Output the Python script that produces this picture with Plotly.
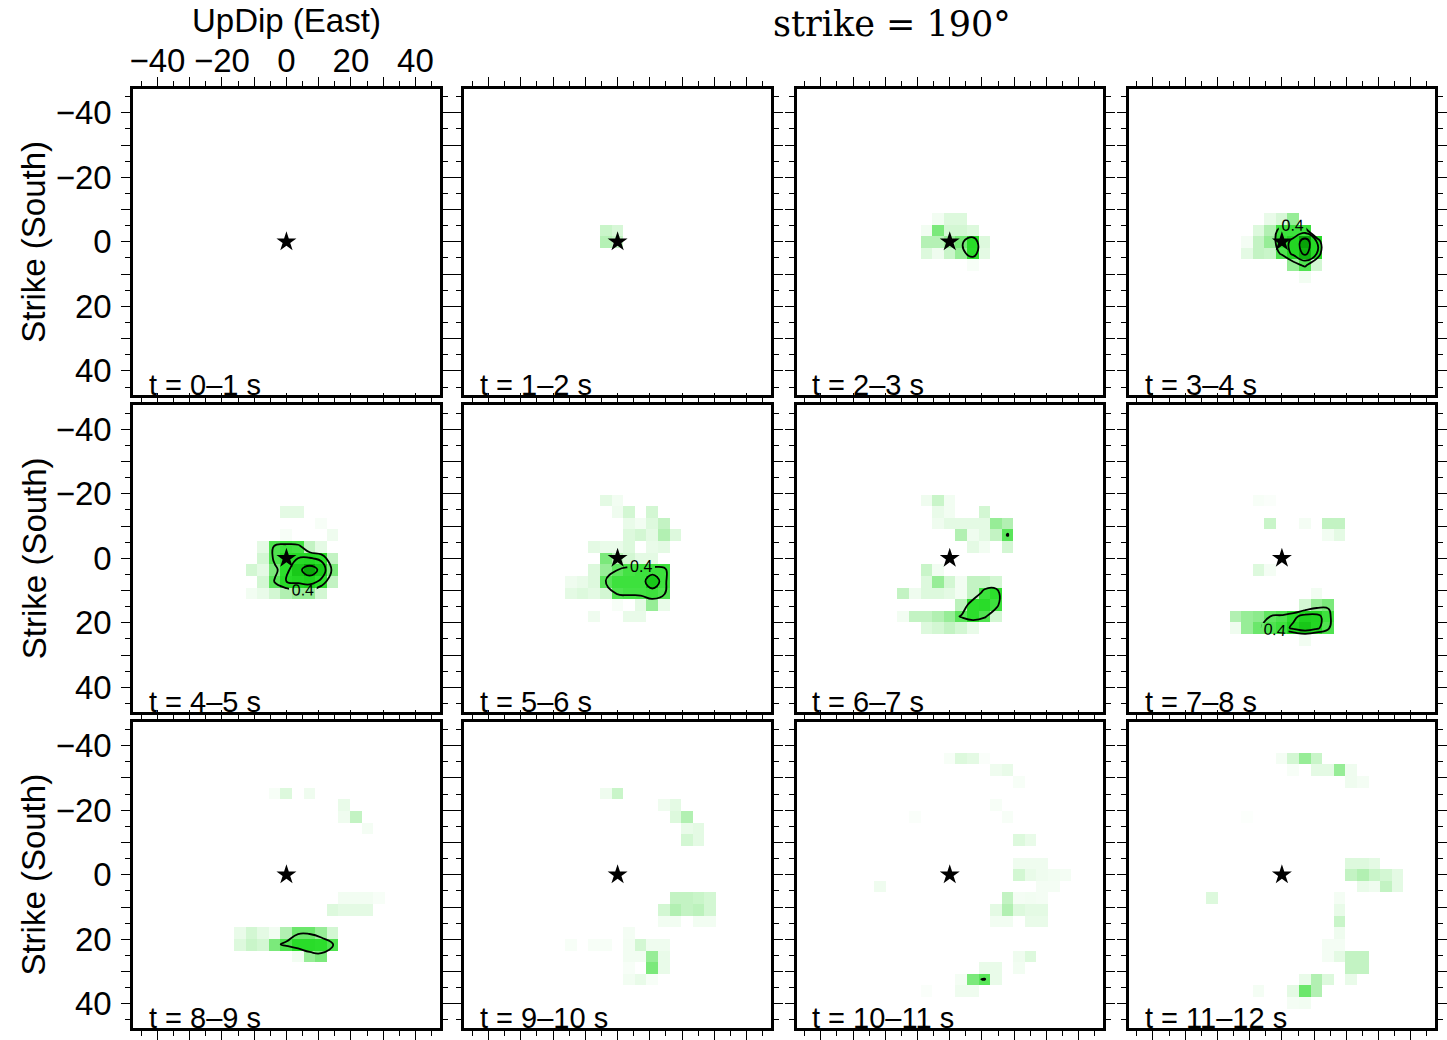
import plotly.graph_objects as go

# ---- back-projection grid (km from hypocentre) ----
CELL_KM = 3.6
N_HALF = 13
updip_km = [round(CELL_KM * k, 3) for k in range(-N_HALF, N_HALF + 1)]
strike_km = [round(CELL_KM * k, 3) for k in range(-N_HALF, N_HALF + 1)]

axis_ticks = [-40, -30, -20, -10, 0, 10, 20, 30, 40]
axis_ticktext = ["−40", "", "−20", "", "0", "", "20", "", "40"]
axis_minor = [-45, -35, -25, -15, -5, 5, 15, 25, 35, 45]

window_labels = ["t = 0–1 s", "t = 1–2 s", "t = 2–3 s", "t = 3–4 s",
                 "t = 4–5 s", "t = 5–6 s", "t = 6–7 s", "t = 7–8 s",
                 "t = 8–9 s", "t = 9–10 s", "t = 10–11 s", "t = 11–12 s"]

# normalised beam power per cell: (updip cell, strike cell, power)
power_00_01 = []
power_01_02 = [(-1, -1, 0.18), (0, -1, 0.14), (-1, 0, 0.24), (0, 0, 0.2)]
power_02_03 = [(-1, -2, 0.05), (0, -2, 0.12), (1, -2, 0.12),
               (-2, -1, 0.05), (-1, -1, 0.35), (0, -1, 0.15), (1, -1, 0.15), (2, -1, 0.12),
               (-2, 0, 0.24), (-1, 0, 0.24), (0, 0, 0.3), (1, 0, 0.36), (2, 0, 0.58), (3, 0, 0.12),
               (-2, 1, 0.12), (-1, 1, 0.06), (0, 1, 0.18), (1, 1, 0.3), (2, 1, 0.55), (3, 1, 0.1),
               (2, 2, 0.03)]
power_03_04 = [(-1, -2, 0.08), (0, -2, 0.14), (1, -2, 0.3),
               (-2, -1, 0.12), (-1, -1, 0.25), (0, -1, 0.5), (1, -1, 0.5), (2, -1, 0.5),
               (-3, 0, 0.04), (-2, 0, 0.2), (-1, 0, 0.3), (0, 0, 0.52), (1, 0, 0.65), (2, 0, 0.92), (3, 0, 0.6),
               (-3, 1, 0.1), (-2, 1, 0.2), (-1, 1, 0.18), (0, 1, 0.45), (1, 1, 0.65), (2, 1, 0.85), (3, 1, 0.6),
               (1, 2, 0.3), (2, 2, 0.45), (3, 2, 0.15),
               (2, 3, 0.05)]
power_04_05 = [(0, -4, 0.1), (1, -4, 0.1),
               (3, -3, 0.03),
               (0, -2, 0.03), (4, -2, 0.06),
               (-2, -1, 0.1), (-1, -1, 0.45), (0, -1, 0.5), (1, -1, 0.48), (2, -1, 0.2), (3, -1, 0.1),
               (-2, 0, 0.15), (-1, 0, 0.45), (0, 0, 0.55), (1, 0, 0.6), (2, 0, 0.62), (3, 0, 0.55), (4, 0, 0.2),
               (-3, 1, 0.15), (-2, 1, 0.1), (-1, 1, 0.35), (0, 1, 0.55), (1, 1, 0.75), (2, 1, 0.9), (3, 1, 0.75), (4, 1, 0.35),
               (-2, 2, 0.15), (-1, 2, 0.42), (0, 2, 0.6), (1, 2, 0.65), (2, 2, 0.7), (3, 2, 0.55), (4, 2, 0.2),
               (-3, 3, 0.05), (-2, 3, 0.08), (-1, 3, 0.15), (0, 3, 0.25), (1, 3, 0.3), (2, 3, 0.3), (3, 3, 0.15)]
power_05_06 = [(-1, -5, 0.1), (0, -5, 0.05),
               (0, -4, 0.06), (1, -4, 0.15), (3, -4, 0.15),
               (1, -3, 0.08), (2, -3, 0.05), (3, -3, 0.12), (4, -3, 0.2),
               (1, -2, 0.12), (2, -2, 0.15), (3, -2, 0.1), (4, -2, 0.25), (5, -2, 0.12),
               (-2, -1, 0.1), (-1, -1, 0.08), (0, -1, 0.08), (1, -1, 0.12), (3, -1, 0.08), (4, -1, 0.1),
               (-1, 0, 0.35), (0, 0, 0.25), (1, 0, 0.15), (2, 0, 0.1), (3, 0, 0.1),
               (-2, 1, 0.12), (-1, 1, 0.3), (0, 1, 0.4), (1, 1, 0.48), (2, 1, 0.5), (3, 1, 0.5), (4, 1, 0.5),
               (-4, 2, 0.06), (-3, 2, 0.08), (-2, 2, 0.12), (-1, 2, 0.42), (0, 2, 0.5), (1, 2, 0.5), (2, 2, 0.5), (3, 2, 0.75), (4, 2, 0.5),
               (-4, 3, 0.1), (-3, 3, 0.12), (-2, 3, 0.1), (-1, 3, 0.15), (0, 3, 0.45), (1, 3, 0.48), (2, 3, 0.48), (3, 3, 0.5), (4, 3, 0.45),
               (0, 4, 0.03), (2, 4, 0.1), (3, 4, 0.3), (4, 4, 0.08),
               (-2, 5, 0.06), (1, 5, 0.08), (2, 5, 0.08)]
power_06_07 = [(-2, -5, 0.06), (-1, -5, 0.18), (0, -5, 0.05),
               (-1, -4, 0.08), (0, -4, 0.05), (3, -4, 0.15),
               (-1, -3, 0.06), (0, -3, 0.1), (1, -3, 0.1), (2, -3, 0.1), (3, -3, 0.1), (4, -3, 0.3), (5, -3, 0.25),
               (1, -2, 0.25), (2, -2, 0.06), (3, -2, 0.1), (4, -2, 0.2), (5, -2, 0.42),
               (2, -1, 0.1), (3, -1, 0.05), (5, -1, 0.15),
               (-2, 1, 0.18), (-1, 1, 0.05),
               (-2, 2, 0.12), (-1, 2, 0.3), (0, 2, 0.15), (1, 2, 0.05), (2, 2, 0.2), (3, 2, 0.2), (4, 2, 0.15),
               (-4, 3, 0.2), (-3, 3, 0.06), (-2, 3, 0.12), (-1, 3, 0.12), (0, 3, 0.1), (1, 3, 0.05), (2, 3, 0.2), (3, 3, 0.5), (4, 3, 0.55),
               (1, 4, 0.22), (2, 4, 0.55), (3, 4, 0.58), (4, 4, 0.5),
               (-4, 5, 0.05), (-3, 5, 0.2), (-2, 5, 0.2), (-1, 5, 0.25), (0, 5, 0.3), (1, 5, 0.42), (2, 5, 0.55), (3, 5, 0.45), (4, 5, 0.15),
               (-2, 6, 0.12), (-1, 6, 0.15), (0, 6, 0.2), (1, 6, 0.15), (2, 6, 0.08)]
power_07_08 = [(-2, -5, 0.03), (-1, -5, 0.02),
               (-1, -3, 0.18), (2, -3, 0.04), (4, -3, 0.2), (5, -3, 0.2),
               (4, -2, 0.05), (5, -2, 0.1),
               (-2, 1, 0.12), (-1, 1, 0.04),
               (3, 3, 0.05),
               (2, 4, 0.15), (3, 4, 0.3), (4, 4, 0.35),
               (-4, 5, 0.25), (-3, 5, 0.3), (-2, 5, 0.32), (-1, 5, 0.4), (0, 5, 0.45), (1, 5, 0.55), (2, 5, 0.68), (3, 5, 0.66), (4, 5, 0.5),
               (-4, 6, 0.06), (-3, 6, 0.3), (-2, 6, 0.38), (-1, 6, 0.45), (0, 6, 0.5), (1, 6, 0.65), (2, 6, 0.76), (3, 6, 0.65), (4, 6, 0.45),
               (2, 7, 0.05)]
power_08_09 = [(-1, -7, 0.03), (0, -7, 0.12), (2, -7, 0.06),
               (5, -6, 0.08),
               (5, -5, 0.06), (6, -5, 0.2),
               (7, -4, 0.04),
               (5, 2, 0.05), (6, 2, 0.05), (7, 2, 0.05), (8, 2, 0.03),
               (4, 3, 0.12), (5, 3, 0.1), (6, 3, 0.1), (7, 3, 0.1),
               (-4, 5, 0.08), (-3, 5, 0.15), (-2, 5, 0.1), (-1, 5, 0.05), (0, 5, 0.25), (1, 5, 0.38), (2, 5, 0.38), (3, 5, 0.3), (4, 5, 0.15),
               (-4, 6, 0.12), (-3, 6, 0.18), (-2, 6, 0.15), (-1, 6, 0.35), (0, 6, 0.45), (1, 6, 0.58), (2, 6, 0.58), (3, 6, 0.55), (4, 6, 0.45),
               (1, 7, 0.05), (2, 7, 0.3), (3, 7, 0.35)]
power_09_10 = [(-1, -7, 0.06), (0, -7, 0.18),
               (4, -6, 0.06), (5, -6, 0.1),
               (5, -5, 0.12), (6, -5, 0.25),
               (6, -4, 0.08), (7, -4, 0.1),
               (6, -3, 0.15), (7, -3, 0.1),
               (5, 2, 0.2), (6, 2, 0.2), (7, 2, 0.18), (8, 2, 0.15),
               (4, 3, 0.15), (5, 3, 0.25), (6, 3, 0.2), (7, 3, 0.22), (8, 3, 0.15),
               (4, 4, 0.05), (5, 4, 0.05), (7, 4, 0.05), (8, 4, 0.05),
               (1, 5, 0.04),
               (-4, 6, 0.03), (-2, 6, 0.03), (-1, 6, 0.03), (1, 6, 0.05), (2, 6, 0.15), (3, 6, 0.06), (4, 6, 0.06),
               (1, 7, 0.05), (2, 7, 0.05), (3, 7, 0.3), (4, 7, 0.08),
               (1, 8, 0.03), (3, 8, 0.35), (4, 8, 0.08),
               (1, 9, 0.05), (2, 9, 0.08), (3, 9, 0.03)]
power_10_11 = [(0, -10, 0.03), (1, -10, 0.12), (2, -10, 0.1), (3, -10, 0.02),
               (4, -9, 0.06), (5, -9, 0.08),
               (6, -8, 0.03),
               (4, -6, 0.03),
               (-3, -5, 0.02), (5, -5, 0.03),
               (6, -3, 0.12), (7, -3, 0.08),
               (6, -1, 0.06), (7, -1, 0.06), (8, -1, 0.06),
               (6, 0, 0.15), (7, 0, 0.08), (8, 0, 0.06), (9, 0, 0.05), (10, 0, 0.04),
               (-6, 1, 0.06), (8, 1, 0.04), (9, 1, 0.04),
               (5, 2, 0.2), (6, 2, 0.04), (7, 2, 0.05), (8, 2, 0.04),
               (4, 3, 0.1), (5, 3, 0.25), (6, 3, 0.12), (7, 3, 0.1), (8, 3, 0.1),
               (4, 4, 0.05), (5, 4, 0.05), (7, 4, 0.08), (8, 4, 0.08),
               (6, 7, 0.06), (7, 7, 0.12),
               (3, 8, 0.08), (4, 8, 0.08), (6, 8, 0.05),
               (1, 9, 0.04), (2, 9, 0.35), (3, 9, 0.42), (4, 9, 0.08),
               (-2, 10, 0.02), (1, 10, 0.06), (2, 10, 0.06)]
power_11_12 = [(0, -10, 0.04), (1, -10, 0.15), (2, -10, 0.3), (3, -10, 0.18),
               (1, -9, 0.03), (3, -9, 0.1), (4, -9, 0.1), (5, -9, 0.3), (6, -9, 0.06),
               (6, -8, 0.06), (7, -8, 0.04),
               (-3, -5, 0.01),
               (6, -1, 0.12), (7, -1, 0.12), (8, -1, 0.1),
               (6, 0, 0.2), (7, 0, 0.25), (8, 0, 0.18), (9, 0, 0.15), (10, 0, 0.1),
               (7, 1, 0.08), (8, 1, 0.06), (9, 1, 0.2), (10, 1, 0.1),
               (-6, 2, 0.12), (5, 2, 0.04),
               (5, 3, 0.08),
               (5, 4, 0.18),
               (5, 5, 0.06),
               (4, 6, 0.04), (5, 6, 0.04),
               (4, 7, 0.04), (5, 7, 0.1), (6, 7, 0.2), (7, 7, 0.2),
               (6, 8, 0.2), (7, 8, 0.2),
               (2, 9, 0.08), (3, 9, 0.25), (4, 9, 0.12), (6, 9, 0.08),
               (-2, 10, 0.04), (1, 10, 0.1), (2, 10, 0.38), (3, 10, 0.25),
               (1, 11, 0.04), (2, 11, 0.05)]

windows_power = [power_00_01, power_01_02, power_02_03, power_03_04,
                 power_04_05, power_05_06, power_06_07, power_07_08,
                 power_08_09, power_09_10, power_10_11, power_11_12]
labelled_windows = {3, 4, 5, 7}

hypocentre = ([0.0], [0.0])

GREENS = [[0.0, "#ffffff"], [0.1, "#e4fae4"], [0.25, "#b2f0b2"],
          [0.4, "#60e660"], [0.55, "#2cde2c"], [0.72, "#1cd01c"], [1.0, "#009000"]]

FIG_W, FIG_H = 1447, 1040
PANEL = 308
COL_LEFT = [130, 463, 797, 1131]
ROW_TOP = [89, 407, 725]
SANS = "Liberation Sans, Arial, sans-serif"


def power_grid(cells):
    n = len(updip_km)
    z = [[0.0] * n for _ in range(n)]
    for ix, iy, p in cells:
        z[iy + N_HALF][ix + N_HALF] = p
    return z


fig = go.Figure()
layout = {}
annotations = []

for k, cells in enumerate(windows_power):
    r, c = divmod(k, 4)
    n = k + 1
    xa = "x" if n == 1 else f"x{n}"
    ya = "y" if n == 1 else f"y{n}"
    z = power_grid(cells)

    fig.add_trace(go.Heatmap(x=updip_km, y=strike_km, z=z, colorscale=GREENS,
                             zmin=0, zmax=1, showscale=False, hoverinfo="skip",
                             xaxis=xa, yaxis=ya))
    fig.add_trace(go.Contour(x=updip_km, y=strike_km, z=z, autocontour=False,
                             contours=dict(start=0.6, end=0.81, size=0.2,
                                           coloring="none", showlabels=False),
                             line=dict(color="black", width=1.8, smoothing=1.3),
                             showscale=False, hoverinfo="skip",
                             xaxis=xa, yaxis=ya))
    fig.add_trace(go.Contour(x=updip_km, y=strike_km, z=z, autocontour=False,
                             contours=dict(start=0.4, end=0.41, size=0.2,
                                           coloring="none",
                                           showlabels=k in labelled_windows,
                                           labelformat=".1f",
                                           labelfont=dict(family=SANS, size=16, color="black")),
                             line=dict(color="black", width=1.8, smoothing=1.3),
                             showscale=False, hoverinfo="skip",
                             xaxis=xa, yaxis=ya))
    fig.add_trace(go.Scatter(x=hypocentre[0], y=hypocentre[1], mode="markers",
                             marker=dict(symbol="star", size=15, color="black",
                                         line=dict(width=0)),
                             hoverinfo="skip", xaxis=xa, yaxis=ya))

    x0 = COL_LEFT[c] / FIG_W
    x1 = (COL_LEFT[c] + PANEL) / FIG_W
    y1 = 1 - ROW_TOP[r] / FIG_H
    y0 = 1 - (ROW_TOP[r] + PANEL) / FIG_H

    common = dict(showline=True, linecolor="black", linewidth=3, mirror="allticks",
                  ticks="outside", ticklen=9, tickwidth=1.4, tickcolor="black",
                  tickmode="array", tickvals=axis_ticks, ticktext=axis_ticktext,
                  minor=dict(tickmode="array", tickvals=axis_minor, ticks="outside",
                             ticklen=5, tickwidth=1.3, tickcolor="black"),
                  showgrid=False, zeroline=False, fixedrange=True,
                  tickfont=dict(family=SANS, size=33, color="black"))

    layout["xaxis" if n == 1 else f"xaxis{n}"] = dict(
        common, domain=[x0, x1], range=[-47.5, 47.5], anchor=ya,
        side="top", showticklabels=(k == 0), ticklabelstandoff=-9)
    layout["yaxis" if n == 1 else f"yaxis{n}"] = dict(
        common, domain=[y0, y1], range=[47.5, -47.5], anchor=xa,
        showticklabels=(c == 0), ticklabelstandoff=3)

    annotations.append(dict(text=window_labels[k], xref=f"{xa} domain", yref=f"{ya} domain",
                            x=0.045, y=0, xanchor="left", yanchor="bottom", yshift=-8,
                            showarrow=False, font=dict(family=SANS, size=29, color="black")))

annotations.append(dict(text="UpDip (East)", xref="paper", yref="paper",
                        x=284 / FIG_W, y=1 - 21 / FIG_H, xanchor="center", yanchor="middle",
                        showarrow=False, font=dict(family=SANS, size=33, color="black")))
for r in range(3):
    annotations.append(dict(text="Strike (South)", xref="paper", yref="paper",
                            x=30 / FIG_W, y=1 - (ROW_TOP[r] + PANEL / 2) / FIG_H,
                            xanchor="center", yanchor="middle", textangle=-90,
                            showarrow=False, font=dict(family=SANS, size=33, color="black")))
annotations.append(dict(text="strike = 190°", xref="paper", yref="paper",
                        x=893 / FIG_W, y=1 - 24 / FIG_H, xanchor="center", yanchor="middle",
                        showarrow=False,
                        font=dict(family="DejaVu Serif, Liberation Serif, serif", size=35, color="black")))

fig.update_layout(width=FIG_W, height=FIG_H, margin=dict(l=0, r=0, t=0, b=0),
                  paper_bgcolor="white", plot_bgcolor="white", showlegend=False,
                  annotations=annotations, **layout)

fig.write_html("out.html")
